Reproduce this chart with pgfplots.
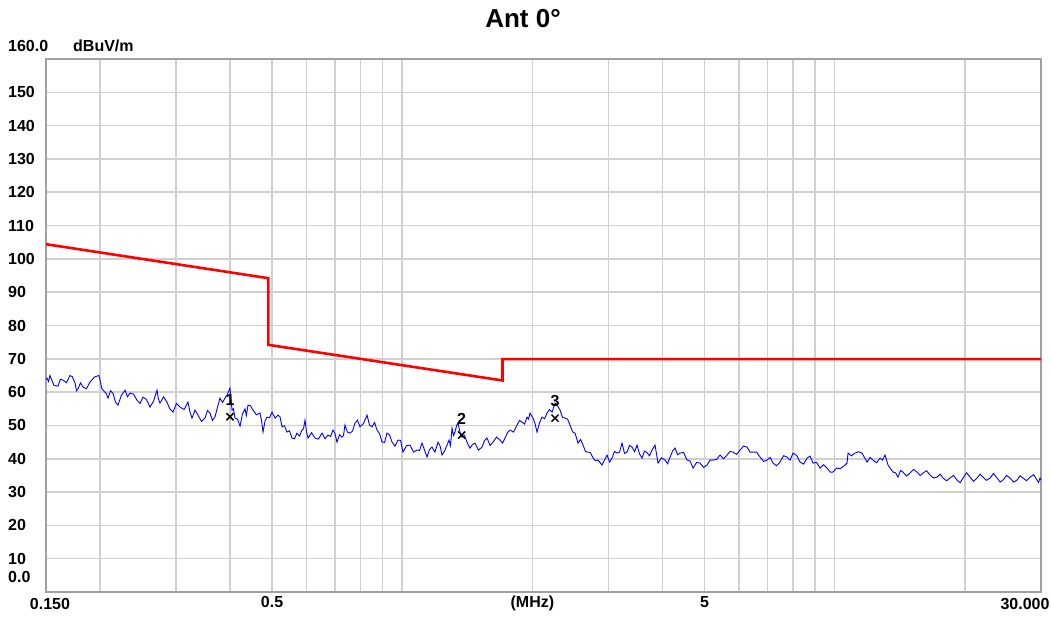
\documentclass[border=0pt]{standalone}
\usepackage{pgfplots}
\pgfplotsset{compat=1.18}
\usepackage{fontspec}
\setmainfont{Liberation Sans}
\definecolor{gridgray}{RGB}{208,208,208}
\definecolor{framegray}{RGB}{160,160,160}
\begin{document}
\begin{tikzpicture}
\begin{axis}[
  at={(0,0)}, anchor=south west,
  scale only axis, width=995bp, height=533bp,
  xmode=log, xmin=0.15, xmax=30, ymin=0, ymax=160,
  axis line style={framegray, line width=2bp},
  grid=major,
  major grid style={gridgray, line width=1.6bp},
  tick style={draw=none}, major tick length=0pt,
  xtick={0.2,0.3,0.4,0.5,0.6,0.7,0.8,0.9,1,2,3,4,5,6,7,8,9,10,20},
  xticklabels={{},{},{},0.5,{},{},{},{},{},(MHz),{},{},5,{},{},{},{},{},{}},
  ytick={10,20,30,40,50,60,70,80,90,100,110,120,130,140,150},
  /pgf/number format/assume math mode=true,
  ticklabel style={font=\fontsize{16bp}{18bp}\selectfont\bfseries},
  yticklabel style={anchor=west, inner sep=0pt, xshift=-38bp},
  xticklabel style={inner sep=4bp},
]
% limit line
\addplot[red, line width=2.6bp, line join=miter] coordinates {
 (0.15,104.4) (0.49,94.2) (0.49,74.2) (1.705,63.5) (1.705,69.9) (30,69.9)};
% measured trace
\addplot[blue, line width=0.9bp] table {
f dB
0.1500 64.0
0.1508 64.2
0.1520 63.2
0.1532 65.0
0.1565 62.0
0.1599 61.8
0.1620 63.9
0.1642 63.6
0.1673 62.8
0.1704 65.0
0.1727 64.6
0.1751 62.7
0.1765 60.4
0.1779 61.0
0.1803 62.8
0.1827 61.5
0.1860 61.0
0.1896 63.0
0.1940 64.5
0.1989 65.0
0.2020 61.0
0.2053 60.0
0.2070 59.5
0.2087 58.2
0.2115 60.4
0.2143 59.7
0.2172 57.0
0.2201 56.1
0.2240 59.0
0.2285 60.6
0.2315 58.6
0.2346 59.7
0.2390 59.4
0.2435 57.6
0.2475 56.6
0.2514 58.5
0.2560 57.8
0.2610 55.5
0.2660 57.3
0.2709 60.6
0.2730 57.9
0.2753 56.7
0.2805 58.6
0.2857 57.0
0.2900 55.0
0.2950 54.0
0.3005 56.6
0.3062 55.5
0.3130 54.8
0.3195 57.0
0.3230 54.0
0.3264 52.2
0.3317 54.6
0.3370 53.1
0.3434 51.2
0.3498 52.2
0.3545 54.5
0.3592 53.7
0.3640 51.5
0.3689 52.5
0.3740 55.5
0.3789 58.2
0.3840 56.9
0.3891 58.2
0.3944 59.4
0.3996 61.2
0.4039 54.6
0.4070 55.0
0.4104 52.2
0.4160 51.9
0.4215 49.8
0.4270 53.4
0.4328 55.0
0.4360 53.0
0.4398 56.1
0.4457 55.9
0.4517 54.6
0.4600 53.2
0.4688 53.7
0.4726 51.5
0.4764 48.0
0.4815 51.3
0.4866 52.5
0.4932 52.3
0.4998 54.0
0.5080 52.2
0.5160 53.1
0.5215 52.6
0.5271 49.6
0.5340 49.9
0.5413 48.0
0.5486 48.4
0.5559 46.2
0.5634 46.0
0.5709 47.7
0.5786 46.8
0.5863 48.6
0.5910 49.0
0.5958 51.6
0.6006 48.0
0.6054 46.2
0.6170 47.8
0.6284 46.2
0.6400 45.9
0.6522 47.7
0.6628 46.0
0.6734 47.1
0.6825 46.7
0.6916 48.6
0.6990 47.6
0.7065 45.0
0.7160 47.2
0.7255 46.5
0.7313 47.0
0.7372 50.1
0.7470 48.0
0.7571 47.7
0.7673 48.3
0.7775 50.7
0.7880 51.6
0.7985 49.6
0.8137 50.6
0.8289 53.1
0.8400 50.1
0.8512 49.6
0.8627 50.9
0.8742 48.6
0.8860 47.6
0.8978 45.0
0.9100 44.9
0.9220 47.7
0.9345 47.2
0.9469 45.0
0.9620 43.8
0.9776 45.6
0.9910 45.5
1.0040 42.0
1.0230 43.9
1.0421 44.1
1.0620 42.0
1.0817 42.6
1.0960 42.5
1.1109 44.7
1.1260 42.6
1.1409 40.5
1.1560 42.8
1.1717 43.5
1.1900 42.0
1.2097 45.0
1.2230 43.8
1.2358 41.1
1.2525 42.3
1.2691 44.1
1.2827 45.6
1.2930 43.9
1.3033 49.2
1.3140 47.0
1.3243 48.0
1.3350 49.9
1.3457 50.7
1.3600 47.9
1.3746 46.5
1.3930 47.0
1.4117 45.0
1.4230 44.0
1.4345 43.2
1.4540 44.3
1.4732 44.7
1.5010 42.6
1.5291 43.5
1.5500 45.5
1.5704 46.2
1.5960 44.0
1.6214 45.0
1.6520 46.5
1.6830 45.6
1.7060 44.7
1.7285 46.2
1.7520 47.9
1.7751 48.6
1.8090 48.0
1.8425 50.1
1.8670 51.5
1.8922 51.0
1.9180 50.4
1.9433 52.5
1.9590 51.9
1.9746 53.7
2.0064 52.2
2.0280 50.5
2.0496 48.0
2.0770 50.8
2.1049 52.5
2.1330 52.0
2.1617 53.7
2.1910 54.8
2.2200 54.0
2.2557 56.7
2.2860 55.9
2.3166 54.6
2.3480 52.4
2.3791 52.2
2.4110 51.9
2.4432 50.1
2.4760 48.1
2.5092 47.7
2.5496 44.7
2.5840 45.8
2.6184 44.1
2.6540 42.1
2.6891 42.0
2.7250 41.8
2.7617 40.2
2.7990 39.4
2.8362 39.6
2.8973 38.1
2.9754 41.1
3.0160 39.0
3.0557 40.2
3.0970 42.2
3.1382 41.7
3.1800 42.0
3.2229 44.7
3.2660 41.6
3.3099 42.0
3.3550 44.0
3.3992 43.5
3.4450 42.1
3.4908 44.1
3.5380 41.4
3.5850 40.2
3.6330 42.3
3.6818 41.8
3.7310 40.9
3.7812 42.6
3.8421 44.1
3.9039 38.7
3.9780 40.3
4.0523 39.6
4.1070 38.5
4.1616 40.5
4.2180 42.3
4.2740 43.2
4.3320 41.2
4.3893 41.7
4.4720 41.9
4.5560 39.6
4.6300 39.3
4.7039 37.2
4.7930 38.9
4.8825 38.7
4.9750 37.4
5.0679 38.1
5.1500 39.6
5.2325 39.6
5.3320 39.8
5.4312 41.1
5.5340 40.0
5.6375 41.1
5.7290 42.2
5.8205 42.0
5.9310 41.3
6.0414 42.6
6.1560 43.8
6.2709 43.5
6.3730 42.0
6.4745 42.0
6.5970 42.0
6.7203 40.5
6.8480 39.2
6.9756 39.6
7.0890 40.4
7.2021 38.7
7.3390 37.9
7.4757 39.0
7.6180 40.9
7.7595 40.5
7.8860 39.6
8.0115 41.7
8.1640 41.0
8.3157 39.0
8.4740 38.4
8.6316 40.2
8.7720 40.8
8.9118 38.7
9.0810 38.9
9.2502 37.2
9.4260 38.2
9.6015 37.2
9.7570 36.0
9.9132 36.0
10.100 37.2
10.290 37.0
10.567 38.1
10.680 38.7
10.738 41.7
10.940 40.9
11.145 41.7
11.360 42.1
11.568 41.7
11.881 39.0
12.070 40.4
12.267 39.6
12.500 38.8
12.732 40.2
12.900 39.6
13.076 41.1
13.286 38.1
13.645 36.0
13.830 35.8
14.013 34.5
14.200 36.5
14.391 36.0
14.660 34.8
14.938 35.7
15.220 36.8
15.505 36.0
15.760 35.0
16.008 35.7
16.310 36.4
16.616 35.1
16.930 34.2
17.247 34.5
17.530 35.4
17.807 34.2
18.150 33.4
18.483 34.2
18.830 35.0
19.185 33.6
19.500 32.8
19.809 34.2
20.180 35.8
20.561 34.5
20.950 33.2
21.342 34.2
21.690 35.4
22.035 34.5
22.450 33.5
22.872 34.2
23.300 35.6
23.741 34.2
24.130 33.0
24.512 33.6
24.980 35.0
25.443 34.2
25.930 33.0
26.409 33.6
26.840 34.9
27.267 34.2
27.780 33.4
28.300 34.5
28.840 35.2
29.376 33.6
29.600 32.9
29.849 34.2
30.000 33.6
};
% markers
\addplot[only marks, mark=x, mark size=5bp, black, line width=1.5bp,
  nodes near coords, point meta=explicit symbolic,
  nodes near coords style={font=\fontsize{16bp}{18bp}\selectfont\bfseries, anchor=south, yshift=7bp}]
  coordinates {(0.3996,52.6)[1] (1.372,47.1)[2] (2.2557,52.2)[3]};
\end{axis}
\node[anchor=base, font=\fontsize{26bp}{30bp}\selectfont\bfseries] at (477bp,564bp) {Ant 0°};
\node[anchor=west, inner sep=0pt, font=\fontsize{16bp}{18bp}\selectfont\bfseries] at (-38bp,546bp) {160.0};
\node[anchor=west, inner sep=0pt, font=\fontsize{16bp}{18bp}\selectfont\bfseries] at (27bp,546bp) {dBuV/m};
\node[anchor=west, inner sep=0pt, font=\fontsize{16bp}{18bp}\selectfont\bfseries] at (-38bp,15bp) {0.0};
\node[anchor=center, inner sep=0pt, font=\fontsize{16bp}{18bp}\selectfont\bfseries] at (4bp,-12bp) {0.150};
\node[anchor=center, inner sep=0pt, font=\fontsize{16bp}{18bp}\selectfont\bfseries] at (979bp,-12bp) {30.000};
\pgfresetboundingbox
\path[use as bounding box] (-46bp,-27bp) rectangle (1006bp,592bp);
\end{tikzpicture}
\end{document}
